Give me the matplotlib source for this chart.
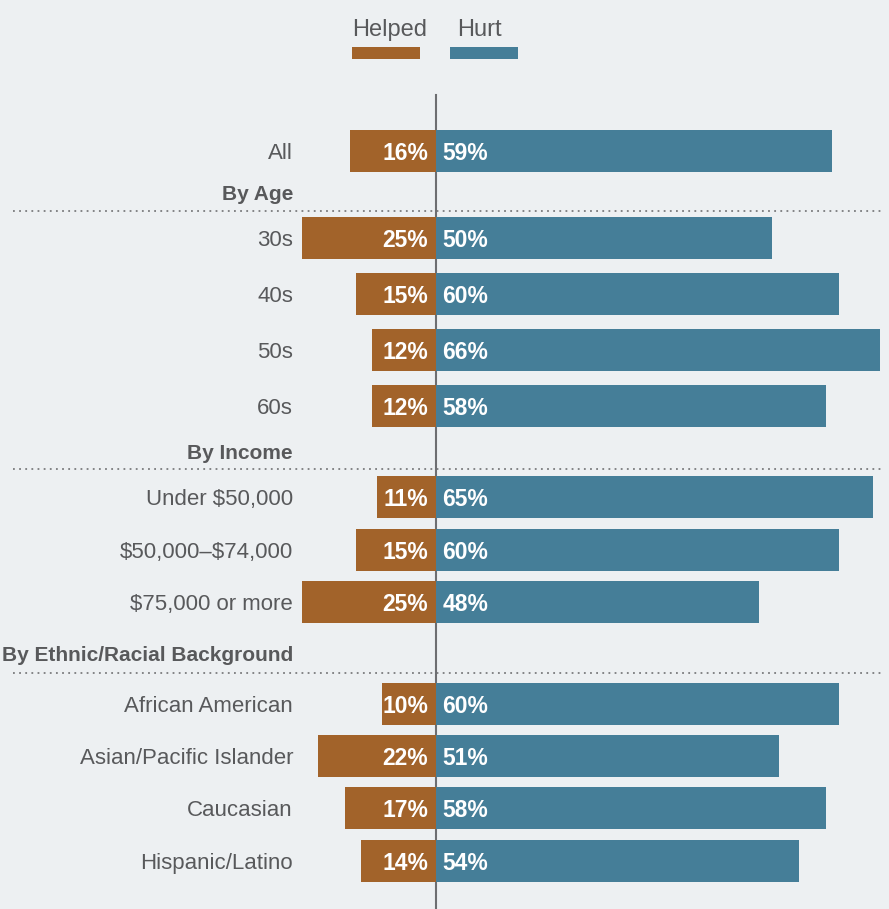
import matplotlib
matplotlib.use("Agg")
import matplotlib.pyplot as plt
from matplotlib.patches import Rectangle

# ---------------- data ----------------
categories = ["All",
              "30s", "40s", "50s", "60s",
              "Under $50,000", "$50,000\u2013$74,000", "$75,000 or more",
              "African American", "Asian/Pacific Islander", "Caucasian", "Hispanic/Latino"]
helped = [16, 25, 15, 12, 12, 11, 15, 25, 10, 22, 17, 14]
hurt = [59, 50, 60, 66, 58, 65, 60, 48, 60, 51, 58, 54]
headers = ["By Age", "By Income", "By Ethnic/Racial Background"]
series_names = ["Helped", "Hurt"]

# ---------------- layout (pixel units) ----------------
W, H = 889, 909
row_y = [151, 238, 294, 350, 406, 497, 550, 602, 704, 756, 808, 861]
header_y = [192, 451, 653]
divider_y = [211, 469, 673]
center_x = 436
bar_h = 42
left_scale = 5.36   # px per % for "Helped"
right_scale = 6.72  # px per % for "Hurt"
base_off = 8        # baseline offset below row centre (px)

BG = "#edf0f2"
ORANGE = "#a2632a"
BLUE = "#457e98"
TEXT = "#58595b"
plt.rcParams["font.family"] = ["Liberation Sans", "DejaVu Sans"]
plt.rcParams["text.parse_math"] = False

fig = plt.figure(figsize=(W / 100, H / 100), dpi=100, facecolor=BG)

# background axes in pixel coordinates
ax_bg = fig.add_axes([0, 0, 1, 1])
ax_bg.set_xlim(0, W)
ax_bg.set_ylim(H, 0)
ax_bg.axis("off")

# left (Helped) and right (Hurt) axes
ax_l = fig.add_axes([0, 0, center_x / W, 1])
ax_l.set_xlim(center_x / left_scale, 0)
ax_l.set_ylim(H, 0)
ax_l.axis("off")

ax_r = fig.add_axes([center_x / W, 0, (W - center_x) / W, 1])
ax_r.set_xlim(0, (W - center_x) / right_scale)
ax_r.set_ylim(H, 0)
ax_r.axis("off")

ax_l.barh(row_y, helped, height=bar_h, color=ORANGE, linewidth=0)
ax_r.barh(row_y, hurt, height=bar_h, color=BLUE, linewidth=0)

for y, v in zip(row_y, helped):
    ax_l.annotate(f"{v}%", xy=(0, y + base_off + 1), xytext=(-5.5, 0), textcoords="offset points",
                  ha="right", va="baseline", color="white", fontsize=16.5, fontweight="bold")
for y, v in zip(row_y, hurt):
    ax_r.annotate(f"{v}%", xy=(0, y + base_off + 1), xytext=(4.5, 0), textcoords="offset points",
                  ha="left", va="baseline", color="white", fontsize=16.5, fontweight="bold")

# category labels
for y, c in zip(row_y, categories):
    ax_bg.text(293, y + base_off, c, ha="right", va="baseline", color=TEXT, fontsize=16)
for y, h in zip(header_y, headers):
    ax_bg.text(293, y + base_off, h, ha="right", va="baseline", color=TEXT,
               fontsize=15, fontweight="bold")

# dotted dividers
for y in divider_y:
    ax_bg.plot([13, 884], [y, y], color="#7a7b7d", linewidth=1.3,
               linestyle=(0, (1, 2.4)), dash_capstyle="butt")

# center line
ax_bg.plot([center_x, center_x], [95, H], color="#6d6e71", linewidth=1.5, zorder=5)

# legend
ax_bg.text(352, 36, series_names[0], ha="left", va="baseline", color=TEXT, fontsize=17)
ax_bg.text(457, 36, series_names[1], ha="left", va="baseline", color=TEXT, fontsize=17)
ax_bg.add_patch(Rectangle((352, 47), 68, 12, color=ORANGE, linewidth=0))
ax_bg.add_patch(Rectangle((450, 47), 68, 12, color=BLUE, linewidth=0))

fig.savefig("out.png", dpi=100, facecolor=BG)
